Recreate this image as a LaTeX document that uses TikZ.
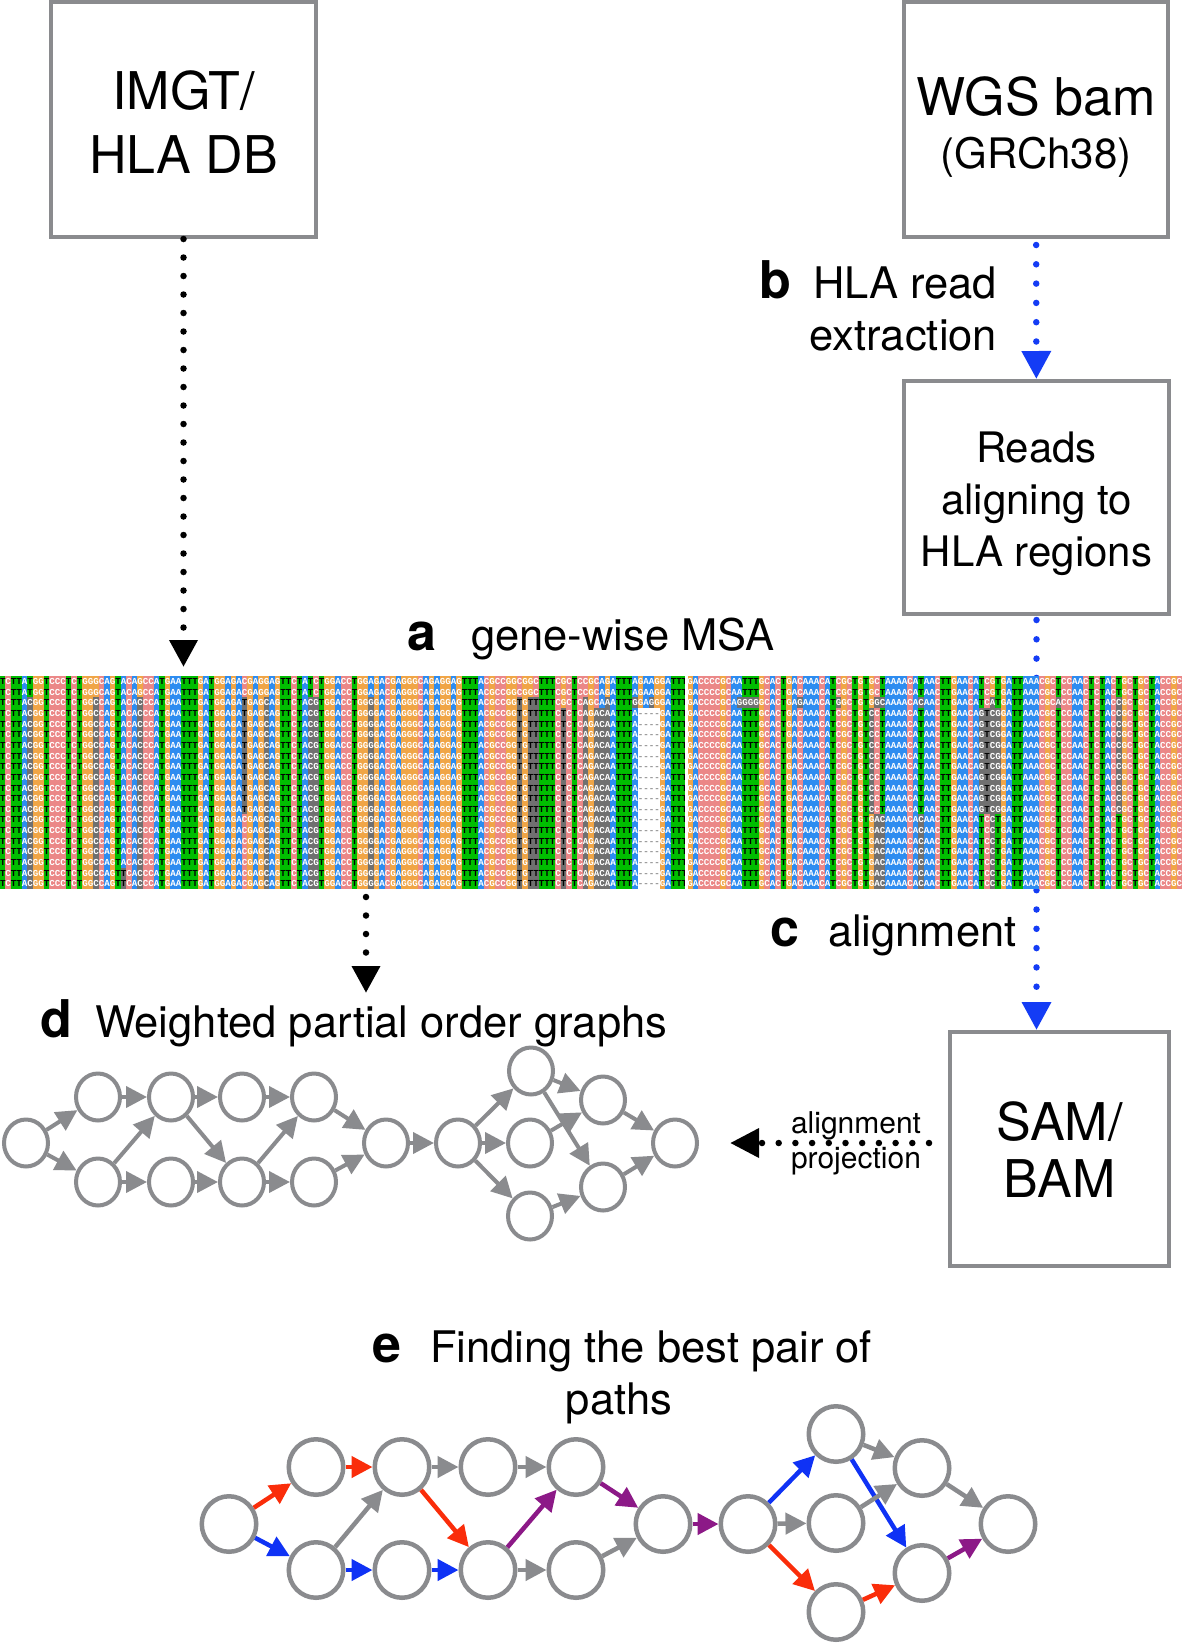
\documentclass[tikz,border=0pt]{standalone}
\usepackage{fontspec}
\setmainfont{TeX Gyre Heros}
\newfontfamily\msafont{Liberation Mono}
\usetikzlibrary{shapes.geometric,arrows.meta}

\definecolor{gr}{RGB}{138,139,142}
\definecolor{dotblue}{RGB}{20,60,245}
\definecolor{pred}{RGB}{250,45,10}
\definecolor{pblue}{RGB}{15,50,245}
\definecolor{ppurp}{RGB}{140,25,135}
\definecolor{msaT}{RGB}{0,190,0}
\definecolor{msaA}{RGB}{45,140,240}
\definecolor{msaG}{RGB}{240,165,70}
\definecolor{msaC}{RGB}{235,135,135}
\definecolor{msaX}{RGB}{112,112,112}
\definecolor{msagap}{RGB}{150,150,150}

% ---------- MSA machinery ----------
\newcount\msaC
\newcount\msaRw
\def\msacw{5.49767}
\def\msarh{10.65}
\def\msatop{676}
\def\msaGobble#1\relax{}
\def\msaStore#1#2\relax{%
  \expandafter\def\csname msaR\the\msaC\endcsname{#1}%
  \advance\msaC by 1\relax
  \if\relax\detokenize{#2}\relax\expandafter\msaGobble\else\expandafter\msaStore\fi#2\relax}
\def\msaCell#1{%
  \edef\msaRef{\csname msaR\the\msaC\endcsname}%
  \def\msaBg{msaX}%
  \if#1-\def\msaBg{white}\else
    \if#1\msaRef
      \if#1T\def\msaBg{msaT}\fi
      \if#1A\def\msaBg{msaA}\fi
      \if#1G\def\msaBg{msaG}\fi
      \if#1C\def\msaBg{msaC}\fi
    \fi
  \fi
  \fill[fill=\msaBg] ({\the\msaC*\msacw},{\msatop+\the\msaRw*\msarh}) rectangle ++({\msacw+0.25},{\msarh+0.25});}
\def\msaCells#1#2\relax{%
  \msaCell{#1}%
  \advance\msaC by 1\relax
  \if\relax\detokenize{#2}\relax\expandafter\msaGobble\else\expandafter\msaCells\fi#2\relax}
\def\msaLc#1{\if#1T{\color{black}T}\else\if#1-{\color{msagap}-}\else#1\fi\fi}
\def\msaL#1#2\relax{\msaLc{#1}\if\relax\detokenize{#2}\relax\expandafter\msaGobble\else\expandafter\msaL\fi#2\relax}
\newcommand\msarow[2]{%
  \msaRw=#1\relax \msaC=0\relax
  \expandafter\msaCells#2\relax
  \node[msaletters] (msal#1) at (0,{\msatop+(#1+0.8)*\msarh}) {\expandafter\msaL#2\relax};}

\def\Lone{TCTTATGGTC CCTCTGGGCA GTACAGCCAT GAATTTGATG GAGACGAGGA GTTCTATCTG GACCTGGAGA CGA}
\def\Lfour{TCTTACGGTC CCTCTGGCCA GTACACCCAT GAATTTGATG GAGATGAGCA GTTCTACGTG GACCTGGGGA CGA}
\def\Lfive{TCTTACGGTC CCTCTGGCCA GTACACCCAT GAATTTGATG GAGACGAGCA GTTCTACGTG GACCTGGGGA CGA}
\def\Lsix{TCTTACGGTC CCTCTGGCCA GTTCACCCAT GAATTTGATG GAGACGAGCA GTTCTACGTG GACCTGGGGA CGA}
\def\Mone{GGGCAGAGGA GTTTACGCCG GCGGCTTTC}
\def\Mfour{GGGCAGAGGA GTTTACGCCG GTGTTTTTC}
\def\Sone{GCTCCGCAGA TTTAGAAGGA TTT}
\def\Sthree{GCTCAGCAAA TTTGGAGGGA TTT}
\def\Sfour{TCTCAGACAA TTTA----GA TTT}
\def\Rone{GACCCCGCAA TTTGCACTGA CAAACATCGC TGTGCTAAAA CATAACTTGA ACATCGTGAT TAAACGCTCC AACTCTACTG CTGCTACCGC}
\def\Rthree{GACCCCGCAG GGGGCACTGA GAAACATGGC TGTGGCAAAA CACAACTTGA ACATCATGAT TAAACGCACC AACTCTACCG CTGCTACCGC}
\def\Rfour{GACCCCGCAA TTTGCACTGA CAAACATCGC TGTCCTAAAA CATAACTTGA ACAGTCGGAT TAAACGCTCC AACTCTACCG CTGCTACCGC}
\def\Rfive{GACCCCGCAA TTTGCACTGA CAAACATCGC TGTGACAAAA CACAACTTGA ACATCCTGAT TAAACGCTCC AACTCTACTG CTGCTACCGC}
\edef\rowA{\Lone\Mone\Sone\Rone}
\edef\rowC{\Lfour\Mfour\Sthree\Rthree}
\edef\rowD{\Lfour\Mfour\Sfour\Rfour}
\edef\rowE{\Lfive\Mfour\Sfour\Rfive}
\edef\rowF{\Lsix\Mfour\Sfour\Rfive}

\tikzset{
  box/.style={rectangle, draw=gr, line width=4pt, align=center, inner sep=0pt},
  dn/.style={ellipse, draw=gr, line width=4pt, minimum width=44pt, minimum height=47pt, inner sep=0pt},
  en/.style={ellipse, draw=gr, line width=4.5pt, minimum width=54.5pt, minimum height=55.5pt, inner sep=0pt},
  da/.style={line width=4pt, draw=gr, -{Triangle[length=21pt,width=21pt]}},
  ea/.style={line width=4.5pt, draw=#1, -{Triangle[length=21pt,width=21pt]}},
  dotk/.style={line width=6.5pt, line cap=round, dash pattern=on 0pt off 18.5pt, draw=black, -{Triangle[length=27pt,width=27pt]}},
  dotkp/.style={line width=6.5pt, line cap=round, dash pattern=on 0pt off 16.7pt, draw=black, -{Triangle[length=29pt,width=28pt]}},
  dotb/.style={line width=6.5pt, line cap=round, dash pattern=on 0pt off 19.3pt, draw=dotblue, -{Triangle[length=28pt,width=28pt]}},
  lbl/.style={inner sep=0pt, outer sep=0pt, font=\fontsize{43.5}{52}\selectfont},
  sml/.style={inner sep=0pt, outer sep=0pt, font=\fontsize{30}{36}\selectfont},
  bl/.style={inner sep=0pt, outer sep=0pt, font=\bfseries\fontsize{52}{52}\selectfont},
  msaletters/.style={anchor=base west, inner sep=0pt, outer sep=0pt, text=white, font=\msafont\bfseries\fontsize{9.163}{9.163}\selectfont},
}

\begin{document}
\begin{tikzpicture}[x=1pt,y=-1pt]
\useasboundingbox (0,0) rectangle (1182,1643);
\fill[white] (0,0) rectangle (1182,1643);

% ---------- boxes ----------
\node[box, minimum width=265pt, minimum height=235pt, font=\fontsize{52}{64}\selectfont] (imgt) at (183.5,119.5) {\rule{0pt}{43pt}IMGT/\\HLA DB};
\node[box, minimum width=264pt, minimum height=235pt, font=\fontsize{52}{53}\selectfont] (wgs) at (1036,119.5) {\rule{0pt}{53pt}WGS bam\\{\fontsize{42}{53}\selectfont (GRCh38)}};
\node[box, minimum width=265pt, minimum height=233pt, font=\fontsize{42}{52}\selectfont] (reads) at (1036.5,497.5) {\rule{0pt}{44pt}Reads\\aligning to\\HLA regions};
\node[box, minimum width=219pt, minimum height=234pt, font=\fontsize{52}{57}\selectfont] (sam) at (1059.5,1149) {\rule{0pt}{39pt}SAM/\\BAM};

\node[inner sep=0pt, outer sep=0pt, minimum width=1182pt, minimum height=213pt] (msa) at (591,782.5) {};

% ---------- graph d nodes ----------
\node[dn] (d0) at (26,1143) {};
\node[dn] (dt1) at (98,1097) {};
\node[dn] (dt2) at (171,1097) {};
\node[dn] (dt3) at (242,1097) {};
\node[dn] (dt4) at (314,1097) {};
\node[dn] (db1) at (98,1182) {};
\node[dn] (db2) at (171,1182) {};
\node[dn] (db3) at (242,1182) {};
\node[dn] (db4) at (314,1182) {};
\node[dn] (dm) at (386,1143) {};
\node[dn] (dp) at (458,1143) {};
\node[dn] (dr1) at (531,1071) {};
\node[dn] (dr2) at (530,1143) {};
\node[dn] (dr3) at (530,1216) {};
\node[dn] (dq1) at (603,1100) {};
\node[dn] (dq2) at (603,1187) {};
\node[dn] (dend) at (675,1143) {};

% ---------- connectors (blue one under the MSA) ----------
\draw[dotb, shorten <=6pt] (wgs) -- (reads);
\draw[dotb, shorten <=4pt] (reads.south) -- (reads.south |- sam.north);

% ---------- MSA ----------
\msaC=0\relax
\expandafter\msaStore\rowA\relax
\msarow{0}{\rowA}
\msarow{1}{\rowA}
\msarow{2}{\rowC}
\foreach \i in {3,...,12} {\msarow{\i}{\rowD}}
\foreach \i in {13,...,17} {\msarow{\i}{\rowE}}
\foreach \i in {18,19} {\msarow{\i}{\rowF}}
\fill[white] ({125*\msacw-2},676) rectangle ({125*\msacw+1},889);

% ---------- other connectors ----------
\draw[dotk, shorten >=9pt] (imgt) -- (imgt.south |- msa.north);
\coordinate (dtip) at (366,993);
\draw[dotk, shorten <=8pt] (msa.south -| dtip) -- (dtip);
\draw[dotkp, shorten <=19pt, shorten >=31pt] (sam.west |- dend) -- (dend);

% ---------- labels ----------
\node[bl, anchor=base west] (la) at (407,650) {a};
\node[lbl, anchor=base west] (lat) at (471,650) {gene-wise MSA};
\node[bl, anchor=base west] (lb) at (759,298) {b};
\node[lbl, anchor=base east] (lbt1) at (997,298) {HLA read};
\node[lbl, anchor=base east] (lbt2) at (997,350) {extraction};
\node[bl, anchor=base west] (lc) at (770,946) {c};
\node[lbl, anchor=base west] (lct) at (828,946) {alignment};
\node[bl, anchor=base west] (ld) at (40,1037) {d};
\node[lbl, anchor=base west] (ldt) at (95,1037) {Weighted partial order graphs};
\node[bl, anchor=base west] (le) at (372,1362) {e};
\node[lbl, anchor=base west] (let1) at (430,1362) {Finding the best pair of};
\node[lbl, anchor=base] (let2) at (619,1414) {paths};
\node[sml, anchor=base west] (lp1) at (791,1133) {alignment};
\node[sml, anchor=base west] (lp2) at (791,1168) {projection};

% ---------- graph d edges ----------
\draw[da] (d0) -- (dt1);
\draw[da] (d0) -- (db1);
\draw[da] (dt1) -- (dt2);
\draw[da] (dt2) -- (dt3);
\draw[da] (dt3) -- (dt4);
\draw[da] (db1) -- (dt2);
\draw[da] (db1) -- (db2);
\draw[da] (db2) -- (db3);
\draw[da] (db3) -- (db4);
\draw[da] (dt2) -- (db3);
\draw[da] (db3) -- (dt4);
\draw[da] (dt4) -- (dm);
\draw[da] (db4) -- (dm);
\draw[da] (dm) -- (dp);
\draw[da] (dp) -- (dr1);
\draw[da] (dp) -- (dr2);
\draw[da] (dp) -- (dr3);
\draw[da] (dr1) -- (dq1);
\draw[da] (dr1) -- (dq2);
\draw[da] (dr2) -- (dq1);
\draw[da] (dr3) -- (dq2);
\draw[da] (dq1) -- (dend);
\draw[da] (dq2) -- (dend);

% ---------- graph e nodes ----------
\node[en] (e0) at (229,1524) {};
\node[en] (et1) at (316,1467) {};
\node[en] (et2) at (402,1467) {};
\node[en] (et3) at (488,1467) {};
\node[en] (et4) at (576,1467) {};
\node[en] (eb1) at (316,1570) {};
\node[en] (eb2) at (402,1570) {};
\node[en] (eb3) at (488,1570) {};
\node[en] (eb4) at (576,1570) {};
\node[en] (em) at (663,1524) {};
\node[en] (ep) at (748,1524) {};
\node[en] (er1) at (836,1434) {};
\node[en] (er2) at (836,1523) {};
\node[en] (er3) at (836,1612) {};
\node[en] (eq1) at (922,1468) {};
\node[en] (eq2) at (922,1573) {};
\node[en] (eend) at (1008,1524) {};

% ---------- graph e edges ----------
\draw[ea=pred] (e0) -- (et1);
\draw[ea=pblue] (e0) -- (eb1);
\draw[ea=pred] (et1) -- (et2);
\draw[ea=gr] (et2) -- (et3);
\draw[ea=gr] (et3) -- (et4);
\draw[ea=gr] (eb1) -- (et2);
\draw[ea=pblue] (eb1) -- (eb2);
\draw[ea=pblue] (eb2) -- (eb3);
\draw[ea=pred] (et2) -- (eb3);
\draw[ea=ppurp] (eb3) -- (et4);
\draw[ea=gr] (eb3) -- (eb4);
\draw[ea=ppurp] (et4) -- (em);
\draw[ea=gr] (eb4) -- (em);
\draw[ea=ppurp] (em) -- (ep);
\draw[ea=pblue] (ep) -- (er1);
\draw[ea=gr] (ep) -- (er2);
\draw[ea=pred] (ep) -- (er3);
\draw[ea=gr] (er1) -- (eq1);
\draw[ea=pblue] (er1) -- (eq2);
\draw[ea=gr] (er2) -- (eq1);
\draw[ea=pred] (er3) -- (eq2);
\draw[ea=gr] (eq1) -- (eend);
\draw[ea=ppurp] (eq2) -- (eend);
\end{tikzpicture}
\end{document}
